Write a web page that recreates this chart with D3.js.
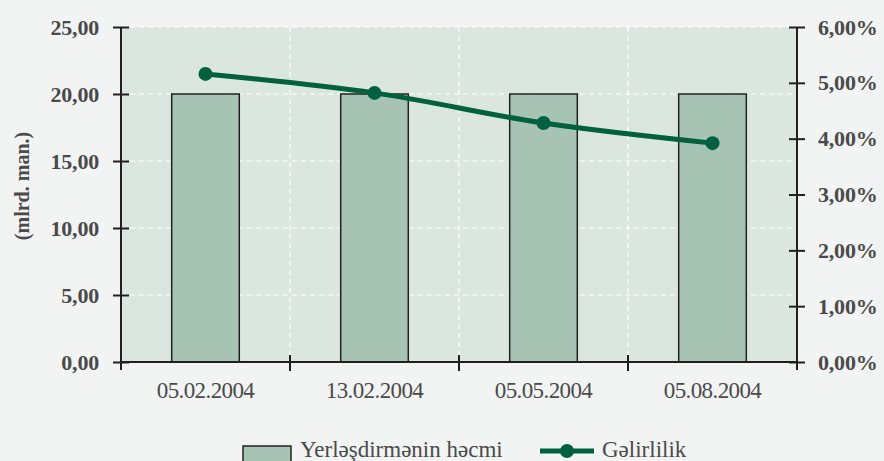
<!DOCTYPE html>
<html><head><meta charset="utf-8">
<script src="https://cdn.jsdelivr.net/npm/d3@7"></script>
<style>
html,body{margin:0;padding:0;background:#f2f4f3;}
svg{display:block;font-family:"Liberation Serif","Times New Roman",serif;}
</style></head>
<body>
<svg id="chart" width="884" height="461"></svg>
<script>
const categories = ["05.02.2004","13.02.2004","05.05.2004","05.08.2004"];
const volume = [20.00, 20.00, 20.00, 20.00];
const yieldPct = [5.16, 4.82, 4.28, 3.92];
const leftTicks = [0,5,10,15,20,25];
const rightTicks = [0,1,2,3,4,5,6];
const seriesNames = ["Yerləşdirmənin həcmi","Gəlirlilik"];
const yTitle = "(mlrd. man.)";

const svg = d3.select("#chart");
const L = 121, R = 797, T = 27, B = 362;
const axisColor = "#231f20", textColor = "#4a4a4a";
const barFill = "#a6c3b4", lineColor = "#00603f", plotBg = "#dce6e1";

const x = d3.scaleBand().domain(categories).range([L, R]).paddingInner(0).paddingOuter(0);
const yL = d3.scaleLinear().domain([0,25]).range([B, T]);
const yR = d3.scaleLinear().domain([0,6]).range([B, T]);
const fmt = d => d3.format(".2f")(d).replace(".", ",");

svg.append("rect").attr("x", L).attr("y", T).attr("width", R - L).attr("height", B - T).attr("fill", plotBg);

// gridlines
const g = svg.append("g");
leftTicks.filter(d => d > 0).forEach(d => {
  g.append("line").attr("x1", L).attr("x2", R).attr("y1", yL(d)).attr("y2", yL(d))
    .attr("stroke", "#ffffff").attr("stroke-width", 1.2).attr("stroke-dasharray", "5,4");
});
categories.slice(1).forEach(c => {
  g.append("line").attr("x1", x(c)).attr("x2", x(c)).attr("y1", T).attr("y2", B)
    .attr("stroke", "#ffffff").attr("stroke-width", 1.2).attr("stroke-dasharray", "5,4");
});

// bars
const bw = x.bandwidth() * 0.4;
svg.append("g").selectAll("rect").data(categories).join("rect")
  .attr("x", (c) => x(c) + x.bandwidth()/2 - bw/2)
  .attr("y", (c, i) => yL(volume[i]))
  .attr("width", bw)
  .attr("height", (c, i) => B - yL(volume[i]))
  .attr("fill", barFill).attr("stroke", axisColor).attr("stroke-width", 1.5);

// line
const pts = categories.map((c, i) => [x(c) + x.bandwidth()/2, yR(yieldPct[i])]);
svg.append("path").attr("d", d3.line().curve(d3.curveCatmullRom.alpha(0.5))(pts))
  .attr("fill", "none").attr("stroke", lineColor).attr("stroke-width", 5);
svg.append("g").selectAll("circle").data(pts).join("circle")
  .attr("cx", d => d[0]).attr("cy", d => d[1]).attr("r", 7).attr("fill", lineColor);

// axes
const leftAxis = d3.axisLeft(yL).tickValues(leftTicks).tickFormat(fmt).tickSize(8).tickPadding(14);
const la = svg.append("g").attr("transform", `translate(${L},0)`).call(leftAxis);
const rightAxis = d3.axisRight(yR).tickValues(rightTicks).tickFormat(d => fmt(d) + "%").tickSize(8).tickPadding(13);
const ra = svg.append("g").attr("transform", `translate(${R},0)`).call(rightAxis);
const bottomAxis = d3.axisBottom(x).tickSize(0).tickPadding(20);
const ba = svg.append("g").attr("transform", `translate(0,${B})`).call(bottomAxis);

[la, ra, ba].forEach(a => {
  a.select(".domain").attr("stroke", axisColor).attr("stroke-width", 2);
  a.selectAll(".tick line").attr("stroke", axisColor).attr("stroke-width", 2);
});
la.selectAll(".tick line").attr("x1", 8).attr("x2", -8);
ra.selectAll(".tick line").attr("x1", -8).attr("x2", 8);
la.select(".domain").attr("d", `M0,${T}V${B+8}`);
ra.select(".domain").attr("d", `M0,${T}V${B+8}`);
ba.select(".domain").attr("d", `M${L},0H${R}`);

la.selectAll(".tick text").attr("font-size", 22).attr("font-weight", "bold").attr("fill", textColor)
  .attr("letter-spacing", "-0.2px").attr("font-family", "Liberation Serif");
ra.selectAll(".tick text").attr("font-size", 22).attr("font-weight", "bold").attr("fill", textColor)
  .attr("letter-spacing", "-0.2px").attr("font-family", "Liberation Serif");
ba.selectAll(".tick text").attr("font-size", 23).attr("fill", textColor)
  .attr("letter-spacing", "-0.6px").attr("font-family", "Liberation Serif");

// category boundary ticks
const bounds = categories.map(c => x(c)).slice(1);
svg.append("g").selectAll("line").data(bounds).join("line")
  .attr("x1", d => d).attr("x2", d => d).attr("y1", B - 7).attr("y2", B + 9)
  .attr("stroke", axisColor).attr("stroke-width", 2);

// y title
svg.append("text").attr("transform", "translate(29,186) rotate(-90)")
  .attr("text-anchor", "middle").attr("font-size", 20).attr("font-weight", "bold")
  .attr("fill", textColor).text(yTitle);

// legend
const lg = svg.append("g");
lg.append("rect").attr("x", 243).attr("y", 446).attr("width", 48).attr("height", 18)
  .attr("fill", barFill).attr("stroke", axisColor).attr("stroke-width", 1.5);
lg.append("text").attr("x", 300).attr("y", 457).attr("font-size", 23).attr("fill", textColor)
  .attr("letter-spacing", "0px").text(seriesNames[0]);
lg.append("line").attr("x1", 540).attr("x2", 594).attr("y1", 451).attr("y2", 451)
  .attr("stroke", lineColor).attr("stroke-width", 5);
lg.append("circle").attr("cx", 567).attr("cy", 451).attr("r", 7).attr("fill", lineColor);
lg.append("text").attr("x", 602).attr("y", 457).attr("font-size", 23).attr("fill", textColor)
  .attr("letter-spacing", "0px").text(seriesNames[1]);
</script>
</body></html>
